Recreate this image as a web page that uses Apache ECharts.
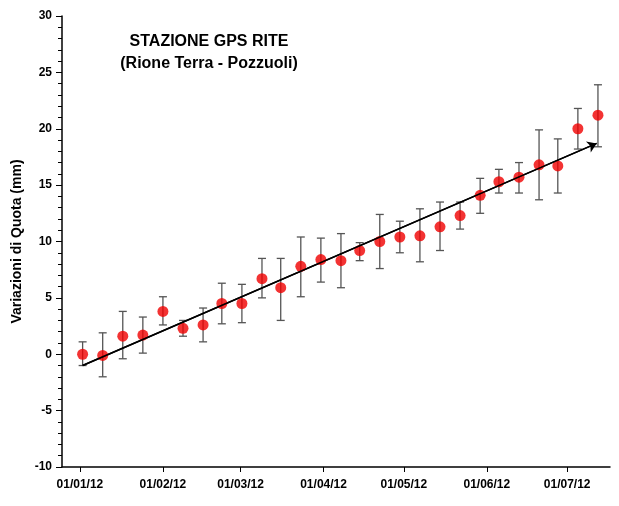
<!DOCTYPE html>
<html>
<head>
    <meta charset="utf-8">
    <title>Stazione GPS RITE</title>
    <style>
        html, body { margin: 0; padding: 0; background: #fff; }
        #main { width: 619px; height: 506px; }
    </style>
</head>
<body>
    <div id="main"></div>
    <script src="https://cdn.jsdelivr.net/npm/echarts@6/dist/echarts.min.js"></script>
    <script>
        // giorni dal 01/01/12
        var days = [1, 8.5, 16, 23.5, 31, 38.5, 46, 53, 60.5, 68, 75, 82.5, 90, 97.5,
                    104.5, 112, 119.5, 127, 134.5, 142, 149.5, 156.5, 164, 171.5, 178.5, 186, 193.5];
        var quota = [0.0, -0.1, 1.6, 1.7, 3.8, 2.3, 2.6, 4.5, 4.5, 6.7, 5.9, 7.8, 8.4, 8.3,
                     9.2, 10.0, 10.4, 10.5, 11.3, 12.3, 14.1, 15.3, 15.7, 16.8, 16.7, 20.0, 21.2];
        var errLow = [-1.0, -2.0, -0.4, 0.1, 2.6, 1.6, 1.1, 2.7, 2.8, 5.0, 3.0, 5.1, 6.4, 5.9,
                      8.3, 7.6, 9.0, 8.2, 9.2, 11.1, 12.5, 14.3, 14.3, 13.7, 14.3, 18.2, 18.4];
        var errHigh = [1.1, 1.9, 3.8, 3.3, 5.1, 3.0, 4.1, 6.3, 6.2, 8.5, 8.5, 10.4, 10.3, 10.7,
                       9.9, 12.4, 11.8, 12.9, 13.5, 13.5, 15.6, 16.4, 17.0, 19.9, 19.1, 21.8, 23.9];
        var trendStart = [1, -1.0];
        var trendEnd = [193, 18.7];
        var monthTicks = [0, 31, 60, 91, 121, 152, 182];
        var monthLabels = ['01/01/12', '01/02/12', '01/03/12', '01/04/12', '01/05/12', '01/06/12', '01/07/12'];

        var font = 'Liberation Sans, Arial, sans-serif';
        var chart = echarts.init(document.getElementById('main'));

        var errData = days.map(function (d, i) { return [d, errLow[i], errHigh[i]]; });
        var pts = days.map(function (d, i) { return [d, quota[i]]; });

        chart.setOption({
            animation: false,
            title: {
                text: 'STAZIONE GPS RITE\n(Rione Terra - Pozzuoli)',
                left: 204, top: 26, textAlign: 'center',
                textStyle: { fontFamily: font, fontSize: 16, fontWeight: 'bold', color: '#000', lineHeight: 22, align: 'center' }
            },
            grid: { left: 62, right: 9, top: 16, bottom: 39 },
            xAxis: {
                type: 'value', min: -6.7, max: 198,
                axisLine: { onZero: false, lineStyle: { color: '#000', width: 1.5 } },
                splitLine: { show: false },
                axisTick: { customValues: monthTicks, length: 5, inside: false, lineStyle: { color: '#000' } },
                axisLabel: {
                    customValues: monthTicks,
                    formatter: function (v) { return monthLabels[monthTicks.indexOf(v)]; },
                    fontFamily: font, fontSize: 12, fontWeight: 'bold', color: '#000', margin: 12
                }
            },
            yAxis: {
                type: 'value', min: -10, max: 30, interval: 5,
                name: 'Variazioni di Quota (mm)', nameLocation: 'middle', nameGap: 38,
                nameTextStyle: { fontFamily: font, fontSize: 14, fontWeight: 'bold', color: '#000' },
                axisLine: { show: true, onZero: false, lineStyle: { color: '#000', width: 1.5 } },
                splitLine: { show: false },
                axisTick: { length: 6, lineStyle: { color: '#000' } },
                minorTick: { show: true, splitNumber: 5, length: 4, lineStyle: { color: '#000' } },
                axisLabel: { fontFamily: font, fontSize: 12, fontWeight: 'bold', color: '#000', margin: 10 }
            },
            series: [
                {
                    type: 'custom',
                    data: errData,
                    z: 2,
                    renderItem: function (params, api) {
                        var x = api.value(0);
                        var lo = api.coord([x, api.value(1)]);
                        var hi = api.coord([x, api.value(2)]);
                        var st = { stroke: '#555', lineWidth: 1.3 };
                        return {
                            type: 'group',
                            children: [
                                { type: 'line', shape: { x1: lo[0], y1: lo[1], x2: hi[0], y2: hi[1] }, style: st },
                                { type: 'line', shape: { x1: lo[0] - 4, y1: lo[1], x2: lo[0] + 4, y2: lo[1] }, style: st },
                                { type: 'line', shape: { x1: hi[0] - 4, y1: hi[1], x2: hi[0] + 4, y2: hi[1] }, style: st }
                            ]
                        };
                    }
                },
                {
                    type: 'line',
                    data: [trendStart, trendEnd],
                    z: 3,
                    showSymbol: false,
                    symbol: 'none',
                    lineStyle: { color: '#000', width: 1.5 },
                    markLine: {
                        silent: true,
                        symbol: ['none', 'arrow'],
                        symbolSize: 9,
                        label: { show: false },
                        lineStyle: { color: '#000', width: 1.5, type: 'solid' },
                        data: [[{ coord: trendStart }, { coord: trendEnd }]]
                    }
                },
                {
                    type: 'scatter',
                    data: pts,
                    z: 4,
                    symbolSize: 11,
                    itemStyle: { color: '#f00000' }
                }
            ]
        });
    </script>
</body>
</html>
